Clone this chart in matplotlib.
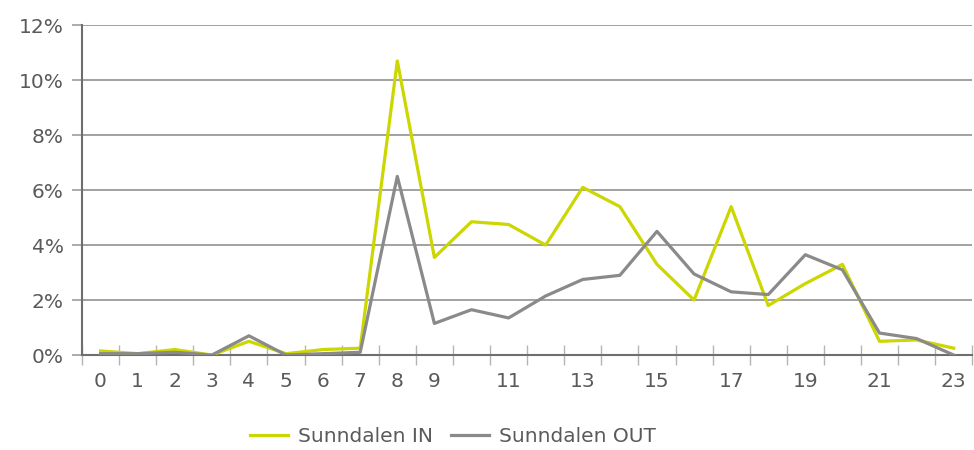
import numpy as np
from matplotlib import pyplot as plt
from matplotlib.ticker import FuncFormatter

hours = list(range(24))
sunndalen_in = [0.15, 0.05, 0.2, 0.0, 0.5, 0.05, 0.2, 0.25, 10.7, 3.55, 4.85, 4.75,
                4.0, 6.1, 5.4, 3.3, 2.0, 5.4, 1.8, 2.6, 3.3, 0.5, 0.55, 0.25]
sunndalen_out = [0.05, 0.05, 0.1, 0.0, 0.7, 0.0, 0.05, 0.1, 6.5, 1.15, 1.65, 1.35,
                 2.15, 2.75, 2.9, 4.5, 2.95, 2.3, 2.2, 3.65, 3.1, 0.8, 0.6, 0.0]
tick_labels = [str(h) if (h < 10 or h % 2 == 1) else '' for h in hours]

plt.rcParams['font.family'] = ['DejaVu Sans']
text_col = '#5a5a5a'
fs = 14.5

fig = plt.figure(figsize=(9.74, 4.5), dpi=100)
ax = fig.add_axes([0.0842, 0.211, 0.914, 0.733])

x = np.array(hours)
ax.plot(x, sunndalen_in, color='#ccd600', lw=2.3, label='Sunndalen IN', zorder=3)
ax.plot(x, sunndalen_out, color='#8a8a8a', lw=2.3, label='Sunndalen OUT', zorder=3)

ax.set_xlim(-0.5, 23.5)
ax.set_ylim(0, 12)
ax.set_yticks(np.arange(0, 13, 2))
ax.yaxis.set_major_formatter(FuncFormatter(lambda v, p: '%d%%' % v))
ax.grid(axis='y', color='#9a9a9a', lw=1.3, zorder=0)

# category labels at centres, tick marks at boundaries
ax.set_xticks(x)
ax.set_xticklabels(tick_labels)
ax.set_xticks(np.arange(-0.5, 24, 1), minor=True)
ax.tick_params(axis='x', which='major', length=0, pad=12, labelsize=fs, labelcolor=text_col)
ax.tick_params(axis='x', which='minor', direction='inout', length=15, width=1, color='#b5b5b5')
ax.tick_params(axis='y', length=7, width=1.3, color='#a5a5a5', pad=6, labelsize=fs, labelcolor=text_col)

for s in ['top', 'right']:
    ax.spines[s].set_visible(False)
ax.spines['left'].set_color('#6e6e6e')
ax.spines['left'].set_linewidth(1.5)
ax.spines['bottom'].set_color('#6e6e6e')
ax.spines['bottom'].set_linewidth(1.5)

leg = fig.legend(loc='center', bbox_to_anchor=(0.465, 0.03), ncol=2, frameon=False,
                 fontsize=fs, handlelength=1.9, columnspacing=0.9, handletextpad=0.5)
for t in leg.get_texts():
    t.set_color(text_col)

fig.savefig('out.png', dpi=100)
